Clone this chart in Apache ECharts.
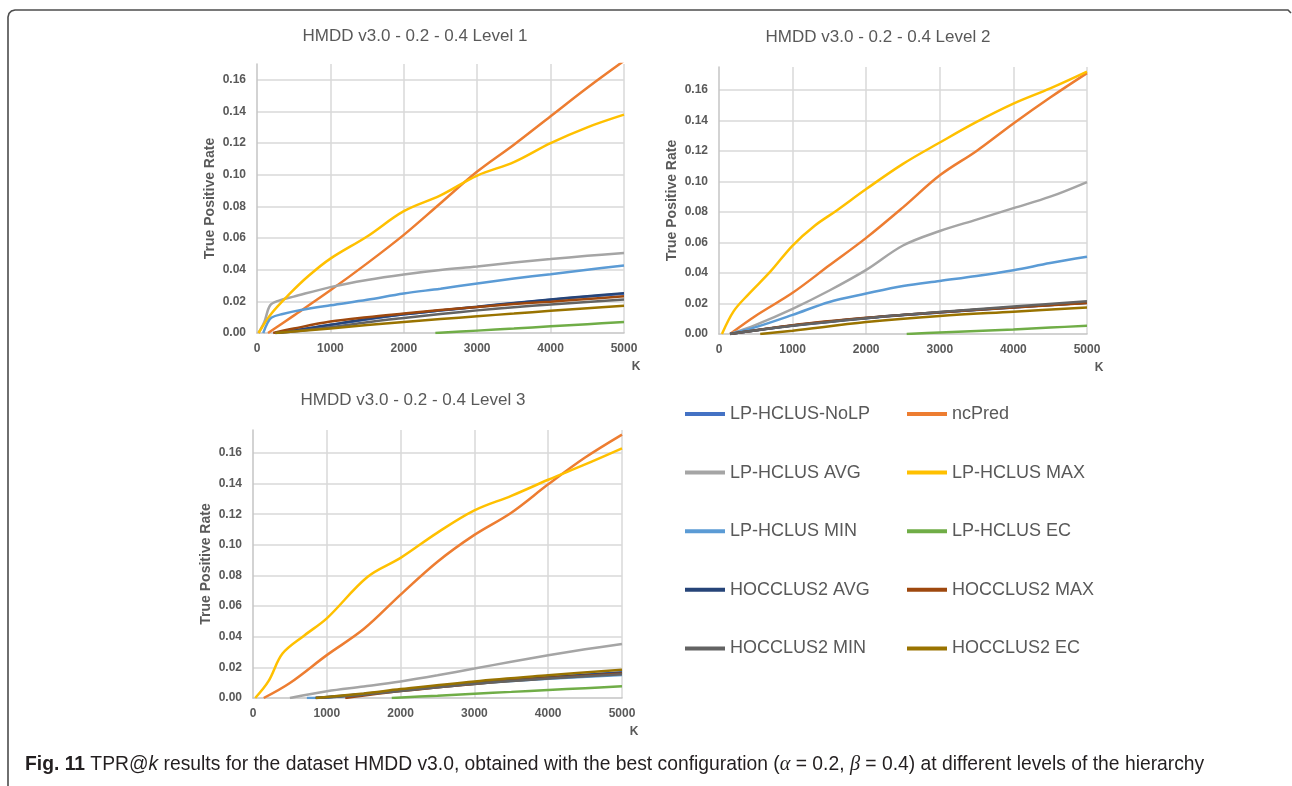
<!DOCTYPE html>
<html><head><meta charset="utf-8">
<script src="https://cdn.jsdelivr.net/npm/echarts@6/dist/echarts.min.js"></script>
<style>html,body{margin:0;padding:0;background:#fff}#c{width:1292px;height:786px}</style>
</head><body><div id="c"></div>
<script>
// ---------- DATA ----------
const SERIES_NAMES = ['LP-HCLUS-NoLP','ncPred','LP-HCLUS AVG','LP-HCLUS MAX','LP-HCLUS MIN','LP-HCLUS EC','HOCCLUS2 AVG','HOCCLUS2 MAX','HOCCLUS2 MIN','HOCCLUS2 EC'];
const CHART_TITLES = ['HMDD v3.0 - 0.2 - 0.4 Level 1','HMDD v3.0 - 0.2 - 0.4 Level 2','HMDD v3.0 - 0.2 - 0.4 Level 3'];
const X_TICKS = [0,1000,2000,3000,4000,5000];
const Y_MAX = [0.17, 0.175, 0.175];

// Level 1  [K, TPR]
const L1_NOLP   = [[250,0],[1000,0.005],[2000,0.0118],[3000,0.0164],[4000,0.021],[5000,0.0248]];
const L1_NCPRED = [[150,0],[500,0.011],[1000,0.027],[1500,0.044],[2000,0.062],[2500,0.082],[3000,0.102],[3500,0.119],[4000,0.137],[4500,0.155],[5000,0.172]];
const L1_AVG    = [[20,0],[100,0.007],[180,0.0175],[300,0.0205],[500,0.023],[1000,0.029],[1500,0.0335],[2000,0.037],[2500,0.0398],[3000,0.042],[3500,0.0445],[4000,0.0467],[4500,0.0488],[5000,0.0505]];
const L1_MAX    = [[20,0],[200,0.0125],[450,0.025],[700,0.036],[1000,0.047],[1500,0.061],[2000,0.077],[2500,0.087],[3000,0.0995],[3500,0.108],[4000,0.120],[4500,0.130],[5000,0.138]];
const L1_MIN    = [[85,0],[140,0.006],[200,0.0098],[350,0.012],[600,0.0145],[1000,0.0175],[1500,0.021],[2000,0.025],[2500,0.028],[3000,0.0313],[3500,0.0344],[4000,0.0372],[4500,0.040],[5000,0.0426]];
const L1_EC     = [[2430,0],[3000,0.0015],[3500,0.0028],[4000,0.0042],[4500,0.0056],[5000,0.007]];
const L1_H_AVG  = [[250,0],[500,0.0015],[1000,0.0052],[1500,0.0088],[2000,0.0118],[2500,0.0143],[3000,0.0166],[3500,0.019],[4000,0.0212],[4500,0.0232],[5000,0.0252]];
const L1_H_MAX  = [[220,0],[500,0.0028],[1000,0.0072],[1500,0.010],[2000,0.0123],[2500,0.0145],[3000,0.0165],[3500,0.0183],[4000,0.0198],[4500,0.0215],[5000,0.0232]];
const L1_H_MIN  = [[250,0],[500,0.001],[1000,0.0036],[1500,0.0068],[2000,0.0095],[2500,0.012],[3000,0.0143],[3500,0.0163],[4000,0.018],[4500,0.0196],[5000,0.0212]];
const L1_H_EC   = [[250,0],[1000,0.0028],[1500,0.005],[2000,0.007],[2500,0.0088],[3000,0.0106],[3500,0.0123],[4000,0.014],[4500,0.0156],[5000,0.0172]];

// Level 2
const L2_NOLP   = [[150,0],[1000,0.0055],[2000,0.0104],[3000,0.0141],[4000,0.0174],[5000,0.0204]];
const L2_NCPRED = [[150,0],[500,0.012],[1000,0.027],[1500,0.045],[2000,0.063],[2500,0.083],[3000,0.104],[3500,0.120],[4000,0.138],[4500,0.155],[5000,0.171]];
const L2_AVG    = [[150,0],[500,0.006],[1000,0.0165],[1500,0.0285],[2000,0.042],[2500,0.058],[3000,0.0675],[3500,0.075],[4000,0.0825],[4500,0.090],[5000,0.0996]];
const L2_MAX    = [[40,0],[200,0.015],[400,0.026],[700,0.041],[1000,0.058],[1300,0.071],[1600,0.081],[2000,0.095],[2500,0.1115],[3000,0.1255],[3500,0.139],[4000,0.151],[4500,0.161],[5000,0.172]];
const L2_MIN    = [[150,0],[500,0.0045],[1000,0.0125],[1500,0.021],[2000,0.0265],[2500,0.0315],[3000,0.0348],[3500,0.038],[4000,0.0418],[4500,0.0465],[5000,0.0506]];
const L2_EC     = [[2550,0],[3000,0.001],[3500,0.002],[4000,0.003],[4500,0.0042],[5000,0.0054]];
const L2_H_AVG  = [[150,0],[1000,0.0056],[2000,0.0105],[3000,0.0142],[4000,0.0175],[5000,0.0205]];
const L2_H_MAX  = [[150,0],[1000,0.0058],[2000,0.0106],[3000,0.0143],[4000,0.0173],[5000,0.0203]];
const L2_H_MIN  = [[150,0],[1000,0.0054],[2000,0.0104],[3000,0.0145],[4000,0.018],[5000,0.0215]];
const L2_H_EC   = [[560,0],[1000,0.0022],[2000,0.0078],[3000,0.0118],[4000,0.0146],[5000,0.0174]];

// Level 3
const L3_NOLP   = [[850,0],[1500,0.0026],[2000,0.0052],[3000,0.0099],[4000,0.0136],[5000,0.0168]];
const L3_NCPRED = [[145,0],[500,0.0098],[1000,0.028],[1500,0.045],[2000,0.0675],[2500,0.089],[3000,0.1065],[3500,0.121],[4000,0.1395],[4500,0.157],[5000,0.172]];
const L3_AVG    = [[500,0],[1000,0.0044],[1500,0.0075],[2000,0.0108],[2500,0.0148],[3000,0.0192],[3500,0.0237],[4000,0.0279],[4500,0.0318],[5000,0.0353]];
const L3_MAX    = [[30,0],[210,0.011],[400,0.029],[700,0.041],[1000,0.052],[1550,0.079],[2000,0.0915],[2500,0.108],[3000,0.1225],[3500,0.132],[4000,0.1425],[4500,0.1525],[5000,0.163]];
const L3_MIN    = [[730,0],[1000,0.0003],[1500,0.0025],[2000,0.0048],[3000,0.0092],[4000,0.0125],[5000,0.015]];
const L3_EC     = [[1880,0],[2500,0.0015],[3000,0.0028],[3500,0.004],[4000,0.0052],[4500,0.0064],[5000,0.0076]];
const L3_H_AVG  = [[850,0],[1500,0.0025],[2000,0.005],[3000,0.0098],[4000,0.0134],[5000,0.0165]];
const L3_H_MAX  = [[1250,0],[2000,0.0045],[3000,0.0092],[4000,0.013],[5000,0.016]];
const L3_H_MIN  = [[850,0],[1500,0.0022],[2000,0.0046],[3000,0.0093],[4000,0.0128],[5000,0.0155]];
const L3_H_EC   = [[850,0],[1500,0.003],[2000,0.0058],[3000,0.0108],[4000,0.0148],[5000,0.0185]];

const LEVELS = [
  [L1_NOLP,L1_NCPRED,L1_AVG,L1_MAX,L1_MIN,L1_EC,L1_H_AVG,L1_H_MAX,L1_H_MIN,L1_H_EC],
  [L2_NOLP,L2_NCPRED,L2_AVG,L2_MAX,L2_MIN,L2_EC,L2_H_AVG,L2_H_MAX,L2_H_MIN,L2_H_EC],
  [L3_NOLP,L3_NCPRED,L3_AVG,L3_MAX,L3_MIN,L3_EC,L3_H_AVG,L3_H_MAX,L3_H_MIN,L3_H_EC]
];

// ---------- STYLE ----------
const COLORS = ['#4472C4','#ED7D31','#A5A5A5','#FFC000','#5B9BD5','#70AD47','#264478','#9E480E','#636363','#997300'];
const FONT = "'Liberation Sans', Arial, sans-serif";
const TXT = '#595959';
const GRIDS = [
  {left:257, top:64, width:367, height:269},
  {left:719, top:67, width:368, height:267},
  {left:253, top:430, width:369, height:268}
];
const TITLE_POS = [[415,36],[878,37],[413,400]];

const chart = echarts.init(document.getElementById('c'), null, {renderer:'canvas'});

const grid = GRIDS.map(g => Object.assign({containLabel:false, outerBoundsMode:'none'}, g));
const xAxis = GRIDS.map((g,i) => ({
  type:'value', gridIndex:i, min:X_TICKS[0], max:X_TICKS[X_TICKS.length-1], interval:X_TICKS[1]-X_TICKS[0],
  name:'K', nameLocation:'end', nameGap:12,
  nameTextStyle:{color:TXT, fontWeight:'bold', fontSize:12, fontFamily:FONT, align:'center', verticalAlign:'top', padding:[28,0,0,0]},
  axisLine:{show:true, onZero:false, lineStyle:{color:'#c4c4c4', width:1.5}},
  axisTick:{show:false},
  axisLabel:{margin:10, color:TXT, fontWeight:'bold', fontSize:12, fontFamily:FONT, formatter:v=>String(v)},
  splitLine:{show:true, showMinLine:false, lineStyle:{color:'#d9d9d9', width:1.5}}
}));
const yAxis = GRIDS.map((g,i) => ({
  type:'value', gridIndex:i, min:0, max:Y_MAX[i], interval:0.02,
  name:'True Positive Rate', nameLocation:'middle', nameGap:40,
  nameTextStyle:{color:TXT, fontWeight:'bold', fontSize:14, fontFamily:FONT},
  axisLine:{show:true, lineStyle:{color:'#c4c4c4', width:1.5}},
  axisTick:{show:false},
  axisLabel:{margin:11, color:TXT, fontWeight:'bold', fontSize:12, fontFamily:FONT, showMaxLabel:false, formatter:v=>v.toFixed(2)},
  splitLine:{show:true, showMinLine:false, showMaxLine:false, lineStyle:{color:'#d9d9d9', width:1.5}}
}));

const series = [];
LEVELS.forEach((lvl, li) => {
  lvl.forEach((data, si) => {
    series.push({
      type:'line', name:SERIES_NAMES[si], xAxisIndex:li, yAxisIndex:li, data:data,
      showSymbol:false, symbol:'none', smooth:0.35, clip:true,
      lineStyle:{width:2.5, color:COLORS[si]}, itemStyle:{color:COLORS[si]},
      emphasis:{disabled:true}, silent:true
    });
  });
});

const legendBase = {
  orient:'vertical', top:404, padding:0, itemWidth:40, itemHeight:4, itemGap:38.6, icon:'rect',
  textStyle:{color:TXT, fontSize:18, fontFamily:FONT, lineHeight:20}, selectedMode:false
};
const legend = [
  Object.assign({}, legendBase, {left:685, data:SERIES_NAMES.filter((_,i)=>i%2===0)}),
  Object.assign({}, legendBase, {left:907, data:SERIES_NAMES.filter((_,i)=>i%2===1)})
];

const graphic = [
  {type:'polyline', silent:true, shape:{points:[[8,786],[8,17],[9,13.5],[11.5,11],[15,10],[1288,10],[1291,13]]},
   style:{stroke:'#4d4d4d', lineWidth:1.6, fill:null}},
  ...CHART_TITLES.map((t,i) => ({type:'text', silent:true, x:TITLE_POS[i][0], y:TITLE_POS[i][1],
     style:{text:t, align:'center', verticalAlign:'middle', fill:TXT, fontSize:17, fontFamily:FONT}})),
  {type:'text', silent:true, x:25, y:765, style:{
     text:'{b|Fig. 11} TPR@{i|k} results for the dataset HMDD v3.0, obtained with the best configuration ({m|α} = 0.2, {m|β} = 0.4) at different levels of the hierarchy',
     verticalAlign:'middle', fill:'#231f20', fontSize:19.3, fontFamily:FONT,
     rich:{
       b:{fontWeight:'bold', fontSize:19.3, fontFamily:FONT, fill:'#231f20'},
       i:{fontStyle:'italic', fontSize:19.3, fontFamily:FONT, fill:'#231f20'},
       m:{fontStyle:'italic', fontSize:20.3, fontFamily:"'Liberation Serif', serif", fill:'#231f20'}
     }}}
];

chart.setOption({animation:false, backgroundColor:'#fff', grid, xAxis, yAxis, series, legend, graphic});
</script></body></html>
